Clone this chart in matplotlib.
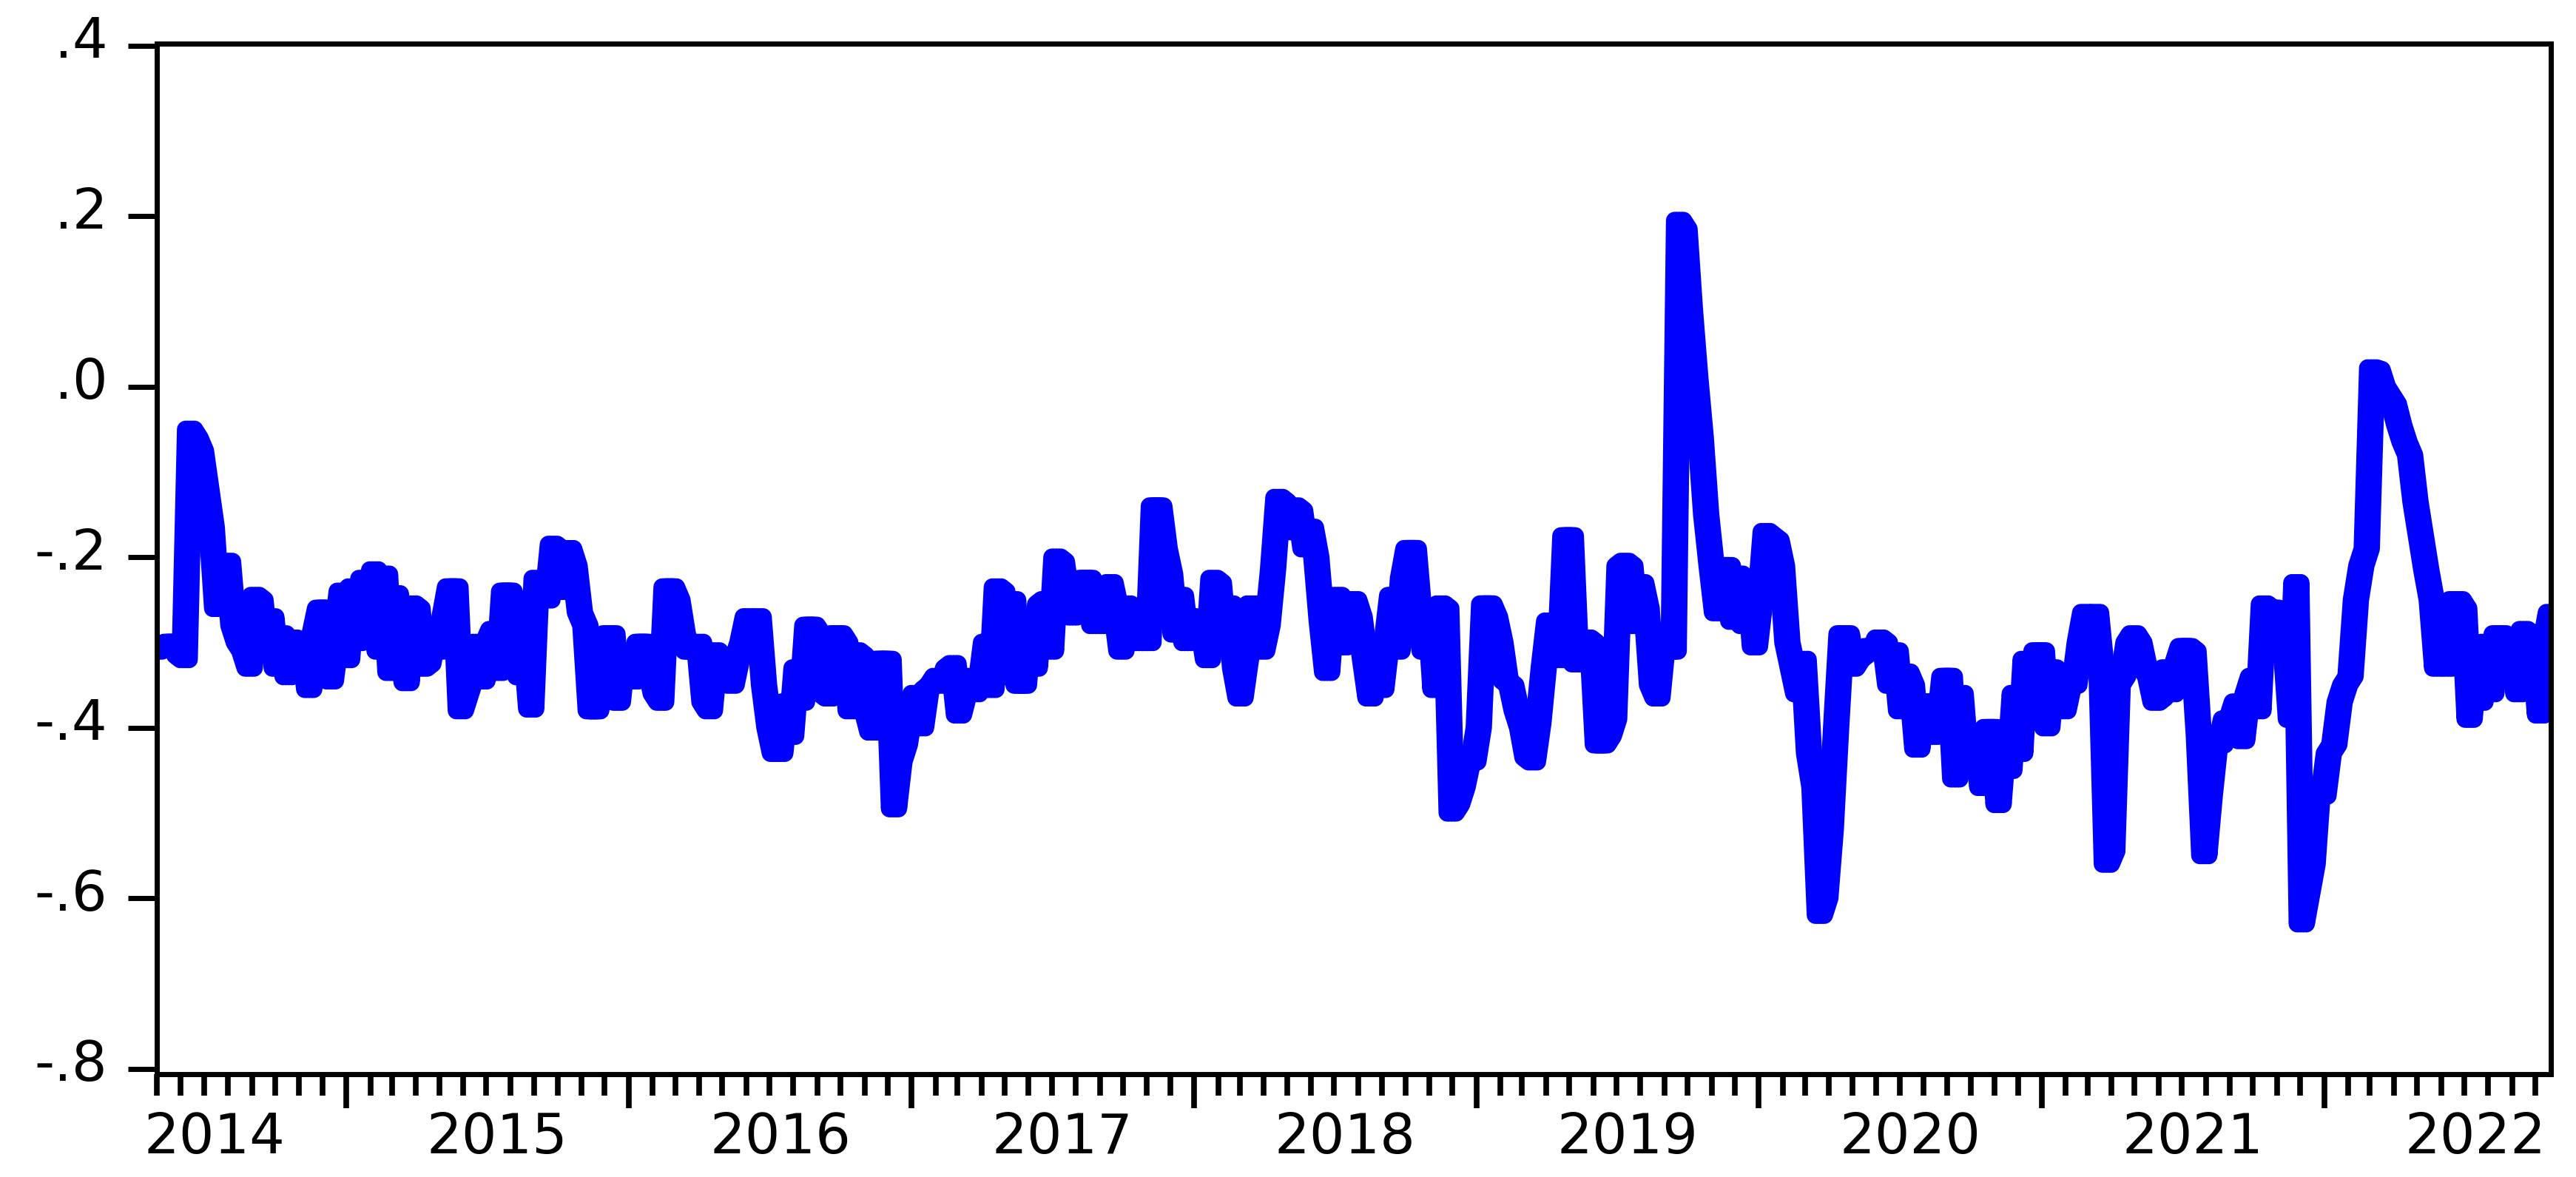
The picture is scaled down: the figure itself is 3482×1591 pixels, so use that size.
import numpy as np
import pandas as pd
import matplotlib
matplotlib.use("Agg")
import matplotlib.pyplot as plt
import matplotlib.dates as mdates
import matplotlib.transforms as mtransforms

start_date = "2014-05-02"

vals_2014_2015a = [
    -0.31, -0.305, -0.30, -0.30, -0.315, -0.32, -0.05, -0.06, -0.075, -0.12,
    -0.165, -0.26, -0.21, -0.205, -0.28, -0.30, -0.31, -0.33, -0.245, -0.25,
    -0.315, -0.27, -0.33, -0.29, -0.34, -0.295, -0.33, -0.30, -0.355, -0.29,
    -0.26, -0.26, -0.345, -0.295, -0.24, -0.32, -0.235, -0.30, -0.225, -0.265,
    -0.215, -0.31, -0.22, -0.335, -0.243, -0.30, -0.347, -0.255, -0.26, -0.33,
    -0.325, -0.29, -0.31, -0.27, -0.235, -0.235, -0.38, -0.36, -0.34, -0.30,
    -0.345, -0.30, -0.285, -0.335, -0.24, -0.24, -0.26, -0.34, -0.30, -0.378,
    -0.225, -0.23, -0.25, -0.185, -0.19, -0.24,
]

vals_2015b_2016 = [
    -0.19, -0.21, -0.265, -0.28, -0.38, -0.38, -0.33, -0.29, -0.29, -0.37,
    -0.31, -0.32, -0.345, -0.30, -0.30, -0.33, -0.36, -0.37, -0.235, -0.235,
    -0.25, -0.29, -0.31, -0.31, -0.30, -0.37, -0.38, -0.31, -0.32, -0.315,
    -0.35, -0.32, -0.30, -0.27, -0.275, -0.27, -0.35, -0.40, -0.43, -0.43,
    -0.37, -0.41, -0.33, -0.37, -0.28, -0.28, -0.29, -0.36, -0.365, -0.29,
    -0.29, -0.30, -0.38, -0.31, -0.315, -0.38, -0.405, -0.32, -0.32, -0.32,
    -0.495, -0.44, -0.42, -0.38, -0.36, -0.40, -0.355, -0.35, -0.34, -0.35,
    -0.33, -0.325, -0.385, -0.36, -0.34,
]

vals_2017_2018a = [
    -0.36, -0.35, -0.30, -0.355, -0.235, -0.24, -0.34, -0.25, -0.35, -0.35,
    -0.27, -0.33, -0.255, -0.25, -0.31, -0.20, -0.205, -0.25, -0.27, -0.26,
    -0.225, -0.225, -0.28, -0.235, -0.28, -0.23, -0.26, -0.31, -0.255, -0.27,
    -0.30, -0.29, -0.30, -0.14, -0.14, -0.19, -0.22, -0.29, -0.245, -0.30,
    -0.27, -0.285, -0.28, -0.32, -0.225, -0.23, -0.30, -0.255, -0.33, -0.365,
    -0.32, -0.255, -0.26, -0.31, -0.28, -0.215, -0.13, -0.135, -0.17, -0.14,
    -0.145, -0.19, -0.165, -0.20, -0.275, -0.335, -0.25, -0.245, -0.305, -0.25,
    -0.25, -0.27, -0.32, -0.365,
]

vals_2018b_2019 = [
    -0.30, -0.355, -0.30, -0.245, -0.31, -0.225, -0.19, -0.19, -0.265, -0.31,
    -0.26, -0.355, -0.255, -0.26, -0.50, -0.49, -0.47, -0.44, -0.44, -0.40,
    -0.255, -0.255, -0.27, -0.30, -0.345, -0.35, -0.38, -0.40, -0.435, -0.44,
    -0.395, -0.33, -0.275, -0.30, -0.32, -0.175, -0.175, -0.325, -0.31, -0.295,
    -0.30, -0.42, -0.42, -0.41, -0.39, -0.21, -0.205, -0.21, -0.28, -0.23,
    -0.26, -0.35, -0.365, -0.30, -0.31, -0.31, 0.195, 0.185, 0.09, 0.01,
    -0.06, -0.15, -0.21, -0.265, -0.21, -0.21, -0.275, -0.22, -0.28, -0.225,
    -0.305, -0.25, -0.17, -0.175,
]

vals_2020_2021a = [
    -0.18, -0.21, -0.30, -0.33, -0.36, -0.32, -0.43, -0.47, -0.62, -0.60,
    -0.52, -0.40, -0.29, -0.29, -0.33, -0.32, -0.315, -0.305, -0.31, -0.295,
    -0.30, -0.35, -0.31, -0.38, -0.335, -0.35, -0.425, -0.37, -0.37, -0.41,
    -0.40, -0.34, -0.34, -0.46, -0.36, -0.44, -0.415, -0.415, -0.47, -0.40,
    -0.40, -0.49, -0.41, -0.45, -0.36, -0.43, -0.32, -0.39, -0.31, -0.31,
    -0.40, -0.33, -0.335, -0.38, -0.35, -0.35, -0.30, -0.265, -0.30, -0.265,
    -0.33, -0.56, -0.545, -0.35, -0.34, -0.30, -0.29, -0.30, -0.33, -0.34,
    -0.37, -0.365, -0.33, -0.36,
]

vals_2021b_2022 = [
    -0.325, -0.305, -0.305, -0.31, -0.41, -0.55, -0.48, -0.42, -0.42, -0.39,
    -0.39, -0.37, -0.415, -0.36, -0.34, -0.38, -0.255, -0.26, -0.26, -0.28,
    -0.30, -0.39, -0.23, -0.63, -0.595, -0.56, -0.47, -0.48, -0.43, -0.42,
    -0.37, -0.35, -0.34, -0.25, -0.21, -0.19, 0.022, 0.02, 0.0, -0.01,
    -0.02, -0.045, -0.065, -0.08, -0.135, -0.175, -0.215, -0.25, -0.33, -0.27,
    -0.33, -0.25, -0.25, -0.26, -0.39, -0.315, -0.37, -0.30, -0.36, -0.29,
    -0.29, -0.345, -0.30, -0.36, -0.285, -0.29, -0.31, -0.385, -0.30, -0.265,
]

y_ticks = [-0.8, -0.6, -0.4, -0.2, 0.0, 0.2, 0.4]
y_tick_labels = ["-.8", "-.6", "-.4", "-.2", ".0", ".2", ".4"]
year_labels = ["2014", "2015", "2016", "2017", "2018", "2019", "2020", "2021", "2022"]

# ---------------- figure ----------------
values = np.array(vals_2014_2015a + vals_2015b_2016 + vals_2017_2018a
                  + vals_2018b_2019 + vals_2020_2021a + vals_2021b_2022)
dates = pd.date_range(start_date, periods=len(values), freq="7D")

plt.rcParams['font.family'] = ['DejaVu Sans']

W, H = 3482, 1591
fig = plt.figure(figsize=(W / 100, H / 100), dpi=100)
left, right, top, bottom = 212, 3448, 59, 1452
ax = fig.add_axes([left / W, (H - bottom) / H, (right - left) / W, (bottom - top) / H])

# the reference pen is wider horizontally than vertically (stretched picture):
# draw the same series with small horizontal pixel shifts to mimic that pen
for dx_px in (-6, -2, 2, 6):
    shift = mtransforms.ScaledTranslation(dx_px / 100, 0, fig.dpi_scale_trans)
    ax.plot(dates, values, color=(0, 0, 1), lw=17,
            solid_joinstyle='round', solid_capstyle='round',
            transform=ax.transData + shift)

ax.set_xlim(pd.Timestamp("2014-05-01"), dates[-1])
ax.set_ylim(-0.8065, 0.4025)

for s in ax.spines.values():
    s.set_linewidth(5)
    s.set_color('black')
    s.set_zorder(5)

ax.set_yticks(y_ticks, y_tick_labels)
ax.tick_params(axis='y', direction='out', length=28, width=5, pad=20,
               labelsize=54, colors='black')
offset = mtransforms.ScaledTranslation(0, 12 / 100, fig.dpi_scale_trans)
for lab in ax.get_yticklabels():
    lab.set_transform(lab.get_transform() + offset)

ax.xaxis.set_major_locator(mdates.YearLocator())
ax.xaxis.set_minor_locator(mdates.MonthLocator())
ax.xaxis.set_major_formatter(plt.NullFormatter())
ax.xaxis.set_minor_formatter(plt.NullFormatter())
ax.tick_params(axis='x', which='major', direction='out', length=33, width=5.5)
ax.tick_params(axis='x', which='minor', direction='out', length=21, width=5.5)

trans = mtransforms.blended_transform_factory(ax.transData, ax.transAxes)
for yl in year_labels:
    xm = mdates.date2num(pd.Timestamp(f"{yl}-07-15"))
    ax.text(xm, -0.0768, yl, transform=trans, ha='center', va='baseline',
            fontsize=54, clip_on=False)

fig.savefig("out.png", dpi=100)
